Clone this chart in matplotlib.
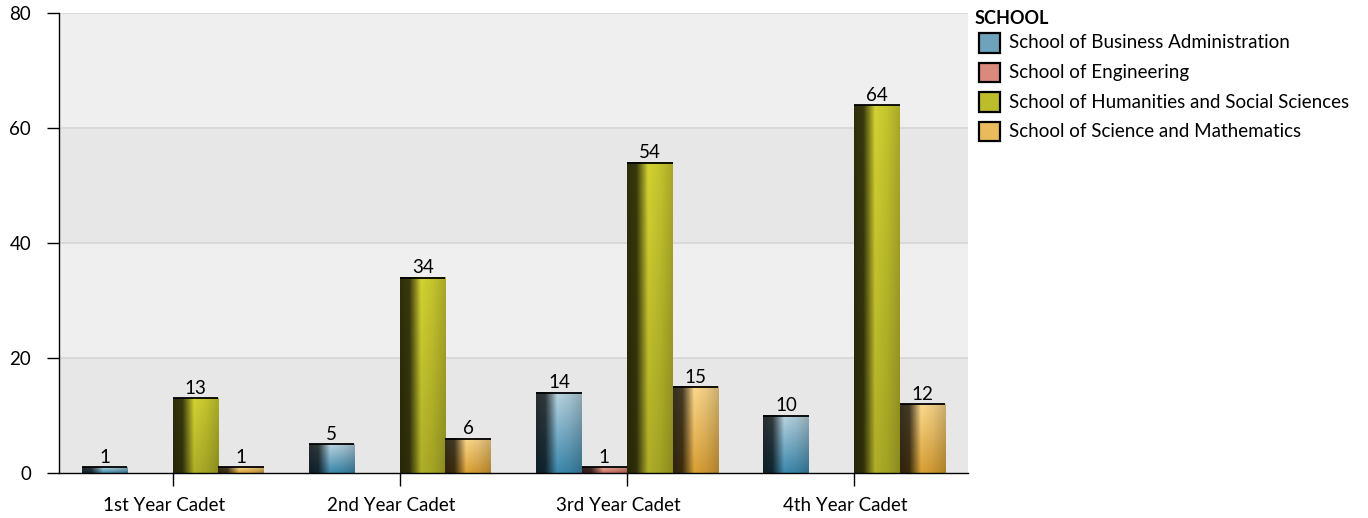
import numpy as np
import matplotlib.pyplot as plt
import matplotlib.transforms as mtransforms
from matplotlib.patches import Rectangle

# data
categories = ["1st Year Cadet", "2nd Year Cadet", "3rd Year Cadet", "4th Year Cadet"]
schools = ["School of Business Administration", "School of Engineering",
           "School of Humanities and Social Sciences", "School of Science and Mathematics"]
business = [1, 5, 14, 10]
engineering = [0, 0, 1, 0]
humanities = [13, 34, 54, 64]
science = [1, 6, 15, 12]
series = [business, engineering, humanities, science]

# styles: (top colour, bottom colour) of the lit part of each bar
TOPS = ["#b9d5e1", "#e9a99a", "#d2d232", "#fcd98c"]
BOTTOMS = ["#3c88ad", "#c86a5a", "#aeae28", "#d9a035"]
LEGEND_COLORS = ["#6fa3bd", "#d98a7c", "#bcbc2c", "#eabb5c"]
FONT = ["Lato", "DejaVu Sans"]
FS = 13.5
BAR_W = 0.2
W, H = 1368, 518

plt.rcParams['font.family'] = FONT


def hex2rgb(c):
    c = c.lstrip("#")
    return np.array([int(c[i:i + 2], 16) / 255 for i in (0, 2, 4)])


def bar_image(top, bottom, nx=60, ny=50):
    top, bottom = hex2rgb(top), hex2rgb(bottom)
    t = np.linspace(0, 1, ny)[:, None, None]  # 0 = top row
    base = top * (1 - t) + bottom * t
    u = np.linspace(0, 1, nx)
    shade = np.interp(u, [0, 0.2, 0.32, 0.46, 0.72, 1.0],
                      [0.22, 0.27, 0.6, 1.0, 0.93, 0.8])
    return np.clip(base * shade[None, :, None], 0, 1)


fig = plt.figure(figsize=(W / 100, H / 100), dpi=100)
ax = fig.add_axes([59 / W, 1 - 473 / H, (968 - 59) / W, (473 - 13) / H])

x = np.arange(len(categories))

# background bands
for i, lo in enumerate(range(0, 80, 20)):
    ax.axhspan(lo, lo + 20, color="#e7e7e7" if i % 2 == 0 else "#efefef", zorder=0, lw=0)
for yv in [20, 40, 60, 80]:
    ax.axhline(yv, color="#d6d6d6", lw=1.2, zorder=0.5)

for k, vals in enumerate(series):
    for i, v in enumerate(vals):
        if v <= 0:
            continue
        x0 = x[i] - 2 * BAR_W + k * BAR_W
        ax.imshow(bar_image(TOPS[k], BOTTOMS[k]), extent=(x0, x0 + BAR_W, 0, v),
                  aspect="auto", interpolation="bilinear", zorder=2)
        ax.hlines(v, x0, x0 + BAR_W, color="black", lw=1.3, zorder=3)
        ax.text(x0 + BAR_W / 2, v + 0.2, str(v), ha="center", va="bottom",
                fontsize=FS, zorder=4)

ax.set_xlim(-0.5, len(categories) - 0.5)
ax.set_ylim(0, 80)

ax.set_xticks(x)
ax.set_xticklabels(categories, fontsize=FS)
ax.set_yticks([0, 20, 40, 60, 80])
ax.tick_params(axis="y", length=9, width=1, labelsize=FS, pad=11)
ax.tick_params(axis="x", length=9, width=1, pad=8)
# category labels sit a little left of their ticks
shift = mtransforms.ScaledTranslation(-9 / 100, 0, fig.dpi_scale_trans)
for lab in ax.get_xticklabels():
    lab.set_transform(lab.get_transform() + shift)
for s in ["top", "right"]:
    ax.spines[s].set_visible(False)
ax.spines["left"].set_linewidth(1)
ax.spines["bottom"].set_linewidth(1)

# legend drawn by hand
fig.text(975 / W, 1 - 18 / H, "SCHOOL", fontsize=FS - 0.5, fontweight="bold",
         ha="left", va="center")
for k, name in enumerate(schools):
    yc = 43 + k * 29.5
    fig.add_artist(Rectangle((979 / W, 1 - (yc + 9.5) / H), 21 / W, 19 / H,
                             transform=fig.transFigure, facecolor=LEGEND_COLORS[k],
                             edgecolor="black", lw=1.6))
    fig.text(1009 / W, 1 - yc / H, name, fontsize=FS, ha="left", va="center")

fig.savefig("out.png", dpi=100)
